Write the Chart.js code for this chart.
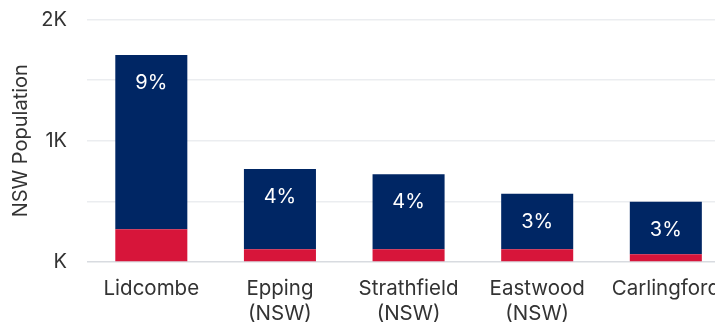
<!DOCTYPE html>
<html>
<head>
<meta charset="utf-8">
<script src="https://cdn.jsdelivr.net/npm/chart.js@4.4.1/dist/chart.umd.min.js"></script>
<style>
  html, body { margin: 0; padding: 0; background: #fff; overflow: hidden; }
  #wrap { width: 715px; height: 326px; overflow: hidden; position: relative; }
  #chart { display: block; }
</style>
</head>
<body>
<div id="wrap"><canvas id="chart" width="735" height="326"></canvas></div>
<script>
// suburbs shown on the x axis
const suburbs = ['Lidcombe', ['Epping', '(NSW)'], ['Strathfield', '(NSW)'], ['Eastwood', '(NSW)'], 'Carlingford'];
// red segment (bottom) and navy segment (top) of each bar
const redValues = [270, 105, 105, 105, 64];
const navyValues = [1437, 662, 618, 458, 433];
// text written inside the navy segment
const pctLabels = ['9%', '4%', '4%', '3%', '3%'];
// y ticks that get a label
const yTickLabels = { 0: 'K', 1000: '1K', 2000: '2K' };

const FONT = 'Inter, "Liberation Sans", sans-serif';
const TEXT = '#333333';

// writes the percentage near the top of every navy bar
const pctPlugin = {
    id: 'pctPlugin',
    afterDatasetsDraw(chart) {
        let ctx = chart.ctx;
        let meta = chart.getDatasetMeta(1);
        ctx.save();
        ctx.fillStyle = '#ffffff';
        ctx.font = '20px ' + FONT;
        ctx.textAlign = 'center';
        ctx.textBaseline = 'middle';
        meta.data.forEach(function (bar, i) {
            ctx.fillText(pctLabels[i], bar.x, bar.y + 28);
        });
        ctx.restore();
    }
};

new Chart(document.getElementById('chart'), {
    type: 'bar',
    data: {
        labels: suburbs,
        datasets: [
            { label: 'red', data: redValues, backgroundColor: '#D7153A' },
            { label: 'navy', data: navyValues, backgroundColor: '#002664' }
        ]
    },
    options: {
        responsive: false,
        animation: false,
        layout: { padding: { top: 19.5, right: 0, left: 0, bottom: 0 } },
        plugins: { legend: { display: false }, tooltip: { enabled: false } },
        datasets: { bar: { categoryPercentage: 0.8, barPercentage: 0.7 } },
        scales: {
            x: {
                stacked: true,
                grid: { display: false, drawTicks: false },
                border: { display: false },
                ticks: { color: TEXT, font: { family: FONT, size: 20.5 }, padding: 15, maxRotation: 0, autoSkip: false },
                afterFit: function (scale) { scale.height = 64; }
            },
            y: {
                stacked: true,
                min: 0,
                max: 2000,
                border: { display: false },
                grid: {
                    drawTicks: false,
                    lineWidth: 1.5,
                    color: function (c) { return c.tick && c.tick.value === 0 ? '#d8dbe0' : '#ebedf0'; }
                },
                ticks: {
                    stepSize: 500,
                    padding: 20,
                    color: TEXT,
                    font: { family: FONT, size: 20 },
                    callback: function (v) { return yTickLabels[v] !== undefined ? yTickLabels[v] : ''; }
                },
                title: {
                    display: true,
                    text: 'NSW Population',
                    color: TEXT,
                    font: { family: FONT, size: 20 },
                    padding: { top: 9, bottom: 0 }
                },
                afterFit: function (scale) {
                    scale.width = 87;
                    scale.paddingTop = 0;
                    scale.paddingBottom = 0;
                }
            }
        }
    },
    plugins: [pctPlugin]
});
</script>
</body>
</html>
